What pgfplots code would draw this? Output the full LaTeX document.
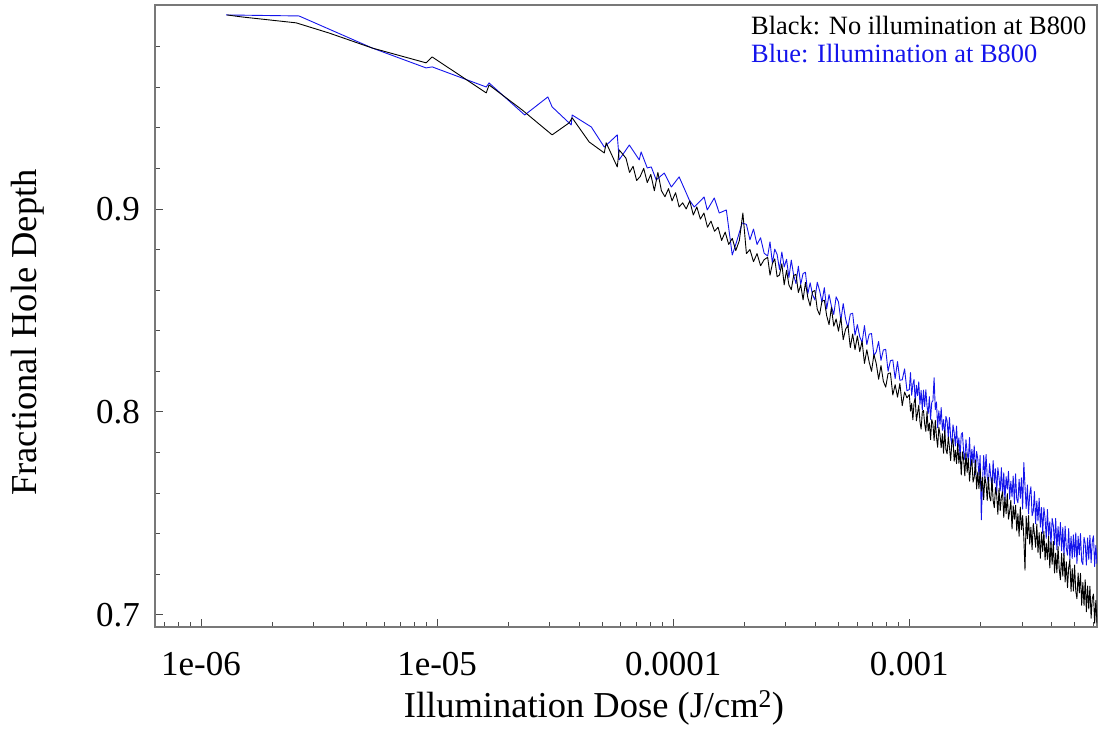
\documentclass[border=0pt]{standalone}
\usepackage{fontspec}
\setmainfont{Liberation Serif}
\usepackage{pgfplots}
\pgfplotsset{compat=1.18}
\definecolor{lineblue}{RGB}{20,20,235}
\definecolor{framegray}{RGB}{120,120,120}
\begin{document}
\begin{tikzpicture}[x=1pt,y=1pt]
\path[use as bounding box] (0,0) rectangle (1099,734);
\begin{axis}[
  at={(155pt,107pt)}, anchor=south west,
  scale only axis, width=942pt, height=622pt,
  xmin=-6.195, xmax=-2.205, ymin=0.694, ymax=1.0005,
  axis line style={draw=framegray, line width=1.4pt},
  xtick={-6,-5,-4,-3},
  xticklabels={1e-06,1e-05,0.0001,0.001},
  minor xtick={-6.1549,-6.0969,-6.0458,
    -5.6990,-5.5229,-5.3979,-5.3010,-5.2218,-5.1549,-5.0969,-5.0458,
    -4.6990,-4.5229,-4.3979,-4.3010,-4.2218,-4.1549,-4.0969,-4.0458,
    -3.6990,-3.5229,-3.3979,-3.3010,-3.2218,-3.1549,-3.0969,-3.0458,
    -2.6990,-2.5229,-2.3979,-2.3010,-2.2218},
  ytick={0.7,0.8,0.9},
  yticklabels={0.7,0.8,0.9},
  minor ytick={0.72,0.74,0.76,0.78,0.82,0.84,0.86,0.88,0.92,0.94,0.96,0.98},
  xtick pos=lower, ytick pos=left,
  tick align=inside,
  major tick length=8pt, minor tick length=5pt,
  every tick/.style={draw=black!70, line width=0.9pt},
  /pgf/number format/assume math mode=true,
  xticklabel style={font=\fontsize{35}{40}\selectfont, anchor=north, inner sep=0pt, yshift=-25pt},
  yticklabel style={font=\fontsize{35}{40}\selectfont, anchor=east, inner sep=0pt, xshift=-15pt},
  xlabel={Illumination Dose (J/cm\textsuperscript{2})},
  ylabel={Fractional Hole Depth},
  xlabel style={font=\fontsize{36.5}{40}\selectfont, at={(axis description cs:0.466,0)}, anchor=base, yshift=-90pt, inner sep=0pt},
  ylabel style={font=\fontsize{36.5}{40}\selectfont, at={(axis description cs:-0.1253,0.4735)}, anchor=base, inner sep=0pt},
  clip=true,
]
% Blue: Illumination at B800 (x = log10 of dose in J/cm^2)
\addplot[color=lineblue, line width=0.9pt, line join=round] table {
-5.894 0.9956
-5.585 0.9951
-5.275 0.9793
-5.047 0.9695
-5.021 0.9700
-4.792 0.9601
-4.780 0.9621
-4.629 0.9463
-4.531 0.9552
-4.513 0.9503
-4.432 0.9414
-4.428 0.9463
-4.347 0.9404
-4.292 0.9305
-4.237 0.9365
-4.229 0.9242
-4.186 0.9315
-4.144 0.9242
-4.136 0.9281
-4.110 0.9202
-4.093 0.9207
-4.072 0.9143
-4.038 0.9177
-4.008 0.9108
-3.975 0.9158
-3.945 0.9079
-3.932 0.9044
-3.911 0.9010
-3.869 0.9059
-3.856 0.8995
-3.826 0.9054
-3.805 0.8980
-3.775 0.8995
-3.750 0.8773
-3.733 0.8833
-3.708 0.8931
-3.690 0.8924
-3.675 0.8848
-3.660 0.8901
-3.645 0.8825
-3.630 0.8858
-3.615 0.8782
-3.60 0.8768
-3.59 0.8838
-3.58 0.8732
-3.57 0.8802
-3.56 0.8776
-3.55 0.8702
-3.54 0.8788
-3.53 0.8714
-3.52 0.8752
-3.51 0.8662
-3.50 0.8748
-3.49 0.8674
-3.48 0.8632
-3.47 0.8718
-3.46 0.8628
-3.45 0.8682
-3.44 0.8688
-3.43 0.8582
-3.42 0.8636
-3.41 0.8578
-3.40 0.8552
-3.39 0.8639
-3.38 0.8598
-3.37 0.8541
-3.36 0.8612
-3.35 0.8507
-3.34 0.8578
-3.33 0.8521
-3.32 0.8480
-3.31 0.8567
-3.30 0.8542
-3.29 0.8450
-3.28 0.8534
-3.27 0.8458
-3.26 0.8414
-3.25 0.8482
-3.24 0.8486
-3.23 0.8378
-3.22 0.8430
-3.21 0.8370
-3.20 0.8342
-3.19 0.8425
-3.18 0.8332
-3.17 0.8383
-3.16 0.8386
-3.15 0.8277
-3.14 0.8296
-3.13 0.8347
-3.12 0.8254
-3.11 0.8305
-3.10 0.8308
-3.09 0.8200
-3.08 0.8252
-3.07 0.8256
-3.06 0.8164
-3.05 0.8248
-3.04 0.8156
-3.03 0.8158
-3.02 0.8212
-3.01 0.8104
-3.000 0.8110
-2.995 0.8194
-2.990 0.8082
-2.985 0.8136
-2.980 0.8159
-2.975 0.8048
-2.970 0.8131
-2.965 0.8080
-2.960 0.8148
-2.955 0.8037
-2.950 0.8105
-2.945 0.8009
-2.940 0.8107
-2.935 0.8026
-2.930 0.8109
-2.925 0.8028
-2.920 0.7991
-2.915 0.8075
-2.910 0.7963
-2.905 0.8047
-2.900 0.8055
-2.895 0.8168
-2.890 0.8011
-2.885 0.8049
-2.880 0.7922
-2.875 0.8005
-2.870 0.7938
-2.865 0.8021
-2.860 0.7909
-2.855 0.7962
-2.850 0.7880
-2.845 0.7978
-2.840 0.7956
-2.835 0.7874
-2.830 0.7972
-2.825 0.7875
-2.820 0.7838
-2.815 0.7936
-2.810 0.7899
-2.805 0.7832
-2.800 0.7930
-2.795 0.7819
-2.790 0.7872
-2.785 0.7776
-2.780 0.7889
-2.775 0.7898
-2.770 0.7801
-2.765 0.7765
-2.760 0.7863
-2.755 0.7797
-2.750 0.7760
-2.745 0.7874
-2.740 0.7732
-2.735 0.7816
-2.730 0.7749
-2.725 0.7833
-2.720 0.7691
-2.715 0.7805
-2.710 0.7768
-2.705 0.7687
-2.700 0.7785
-2.695 0.7468
-2.690 0.7655
-2.685 0.7785
-2.680 0.7675
-2.675 0.7790
-2.670 0.7680
-2.665 0.7645
-2.660 0.7745
-2.655 0.7680
-2.650 0.7630
-2.645 0.7760
-2.640 0.7650
-2.635 0.7720
-2.630 0.7595
-2.625 0.7725
-2.620 0.7675
-2.615 0.7610
-2.610 0.7725
-2.605 0.7585
-2.600 0.7700
-2.595 0.7563
-2.590 0.7681
-2.585 0.7619
-2.580 0.7707
-2.575 0.7570
-2.570 0.7658
-2.565 0.7581
-2.560 0.7684
-2.555 0.7547
-2.550 0.7695
-2.545 0.7571
-2.540 0.7552
-2.535 0.7668
-2.530 0.7574
-2.525 0.7675
-2.520 0.7521
-2.515 0.7750
-2.510 0.7633
-2.505 0.7524
-2.500 0.7640
-2.495 0.7497
-2.490 0.7594
-2.485 0.7631
-2.480 0.7488
-2.475 0.7510
-2.470 0.7607
-2.465 0.7449
-2.460 0.7561
-2.455 0.7463
-2.450 0.7575
-2.445 0.7432
-2.440 0.7529
-2.435 0.7401
-2.430 0.7528
-2.425 0.7475
-2.420 0.7377
-2.415 0.7519
-2.410 0.7391
-2.405 0.7458
-2.400 0.7345
-2.395 0.7475
-2.390 0.7440
-2.385 0.7345
-2.380 0.7475
-2.375 0.7320
-2.370 0.7435
-2.365 0.7340
-2.360 0.7455
-2.355 0.7315
-2.350 0.7430
-2.345 0.7291
-2.340 0.7437
-2.335 0.7328
-2.330 0.7294
-2.325 0.7425
-2.320 0.7271
-2.315 0.7387
-2.310 0.7278
-2.305 0.7394
-2.300 0.7285
-2.295 0.7404
-2.290 0.7253
-2.285 0.7387
-2.280 0.7296
-2.275 0.7400
-2.270 0.7264
-2.265 0.7248
-2.260 0.7382
-2.255 0.7351
-2.250 0.7245
-2.245 0.7379
-2.240 0.7273
-2.235 0.7392
-2.230 0.7256
-2.225 0.7360
-2.220 0.7389
-2.215 0.7238
-2.210 0.7342
-2.205 0.7251
};
% Black: No illumination at B800
\addplot[color=black, line width=0.9pt, line join=round] table {
-5.890 0.9956
-5.826 0.9946
-5.597 0.9917
-5.458 0.9867
-5.275 0.9793
-5.047 0.9720
-5.021 0.9749
-4.792 0.9572
-4.780 0.9611
-4.640 0.9488
-4.513 0.9365
-4.441 0.9424
-4.428 0.9449
-4.356 0.9330
-4.292 0.9276
-4.284 0.9326
-4.237 0.9207
-4.229 0.9291
-4.200 0.925
-4.185 0.918
-4.170 0.921
-4.155 0.914
-4.140 0.916
-4.125 0.920
-4.110 0.913
-4.095 0.917
-4.080 0.909
-4.065 0.918
-4.050 0.909
-4.035 0.906
-4.020 0.910
-4.005 0.904
-3.990 0.908
-3.975 0.901
-3.960 0.903
-3.945 0.900
-3.930 0.904
-3.915 0.897
-3.900 0.901
-3.885 0.895
-3.870 0.898
-3.855 0.891
-3.840 0.894
-3.825 0.889
-3.810 0.891
-3.795 0.8845
-3.780 0.8886
-3.765 0.8825
-3.750 0.8855
-3.735 0.8795
-3.720 0.8844
-3.705 0.8980
-3.690 0.878
-3.675 0.880
-3.660 0.874
-3.645 0.878
-3.630 0.872
-3.615 0.875
-3.60 0.8762
-3.59 0.8674
-3.58 0.8730
-3.57 0.8754
-3.56 0.8666
-3.55 0.8674
-3.54 0.8730
-3.53 0.8626
-3.52 0.8698
-3.51 0.8626
-3.50 0.8602
-3.49 0.8672
-3.48 0.8678
-3.47 0.8588
-3.46 0.8626
-3.45 0.8552
-3.44 0.8638
-3.43 0.8564
-3.42 0.8522
-3.41 0.8592
-3.40 0.8598
-3.39 0.8506
-3.38 0.8478
-3.37 0.8546
-3.36 0.8550
-3.35 0.8474
-3.34 0.8430
-3.33 0.8514
-3.32 0.8422
-3.31 0.8458
-3.30 0.8398
-3.29 0.8465
-3.28 0.8356
-3.27 0.8407
-3.26 0.8426
-3.25 0.8317
-3.24 0.8384
-3.23 0.8307
-3.22 0.8374
-3.21 0.8297
-3.20 0.8348
-3.19 0.8239
-3.18 0.8306
-3.17 0.8245
-3.16 0.8200
-3.15 0.8283
-3.14 0.8238
-3.13 0.8161
-3.12 0.8228
-3.11 0.8151
-3.10 0.8122
-3.09 0.8189
-3.08 0.8192
-3.07 0.8083
-3.06 0.8134
-3.05 0.8073
-3.04 0.8140
-3.03 0.8031
-3.02 0.8098
-3.01 0.8069
-3.000 0.8085
-2.995 0.8004
-2.990 0.8042
-2.985 0.7961
-2.980 0.8044
-2.975 0.8068
-2.970 0.7956
-2.965 0.7995
-2.960 0.8033
-2.955 0.7952
-2.950 0.7915
-2.945 0.7999
-2.940 0.8007
-2.935 0.7941
-2.930 0.7904
-2.925 0.8003
-2.920 0.7906
-2.915 0.7945
-2.910 0.7863
-2.905 0.7962
-2.900 0.7940
-2.895 0.7859
-2.890 0.7958
-2.885 0.7877
-2.880 0.7826
-2.875 0.7925
-2.870 0.7889
-2.865 0.7823
-2.860 0.7892
-2.855 0.7796
-2.850 0.7910
-2.845 0.7814
-2.840 0.7793
-2.835 0.7877
-2.830 0.7826
-2.825 0.7760
-2.820 0.7844
-2.815 0.7868
-2.810 0.7757
-2.805 0.7811
-2.800 0.7745
-2.795 0.7844
-2.790 0.7747
-2.785 0.7801
-2.780 0.7689
-2.775 0.7803
-2.770 0.7766
-2.765 0.7685
-2.760 0.7798
-2.755 0.7702
-2.750 0.7770
-2.745 0.7659
-2.740 0.7727
-2.735 0.7766
-2.730 0.7654
-2.725 0.7678
-2.720 0.7761
-2.715 0.7620
-2.710 0.7703
-2.705 0.7622
-2.700 0.7720
-2.695 0.7609
-2.690 0.7678
-2.685 0.7567
-2.680 0.7681
-2.675 0.7645
-2.670 0.7564
-2.665 0.7678
-2.660 0.7582
-2.655 0.7561
-2.650 0.7675
-2.645 0.7564
-2.640 0.7528
-2.635 0.7627
-2.630 0.7591
-2.625 0.7495
-2.620 0.7624
-2.615 0.7513
-2.610 0.7582
-2.605 0.7606
-2.600 0.7480
-2.595 0.7579
-2.590 0.7498
-2.585 0.7597
-2.580 0.7471
-2.575 0.7510
-2.570 0.7564
-2.565 0.7423
-2.560 0.7537
-2.555 0.7471
-2.550 0.7540
-2.545 0.7414
-2.540 0.7498
-2.535 0.7387
-2.530 0.7531
-2.525 0.7420
-2.520 0.7489
-2.515 0.7378
-2.510 0.7220
-2.505 0.7486
-2.500 0.7375
-2.495 0.7489
-2.490 0.7348
-2.485 0.7432
-2.480 0.7321
-2.475 0.7450
-2.470 0.7399
-2.465 0.7333
-2.460 0.7447
-2.455 0.7306
-2.450 0.7405
-2.445 0.7279
-2.440 0.7408
-2.435 0.7312
-2.430 0.7411
-2.425 0.7270
-2.420 0.7354
-2.415 0.7273
-2.410 0.7387
-2.405 0.7231
-2.400 0.7360
-2.395 0.7249
-2.390 0.7362
-2.385 0.7206
-2.380 0.7304
-2.375 0.7208
-2.370 0.7336
-2.365 0.7225
-2.360 0.7173
-2.355 0.7302
-2.350 0.7190
-2.345 0.7304
-2.340 0.7162
-2.335 0.7261
-2.330 0.7134
-2.325 0.7233
-2.320 0.7271
-2.315 0.7115
-2.310 0.7228
-2.305 0.7117
-2.300 0.7245
-2.295 0.7117
-2.290 0.7079
-2.285 0.7206
-2.280 0.7108
-2.275 0.7205
-2.270 0.7047
-2.265 0.7159
-2.260 0.7046
-2.255 0.7173
-2.250 0.7015
-2.245 0.7142
-2.240 0.7029
-2.235 0.7141
-2.230 0.6983
-2.225 0.7080
-2.220 0.7102
-2.215 0.6959
-2.210 0.7071
-2.205 0.6958
};
\node[anchor=base west, inner sep=0pt, font=\fontsize{26.4}{30}\selectfont, text=black]
  at (rel axis cs:0.6327,0.9518) {Black: No illumination at B800};
\node[anchor=base west, inner sep=0pt, font=\fontsize{26.4}{30}\selectfont, text=lineblue]
  at (rel axis cs:0.6327,0.9068) {Blue: Illumination at B800};
\end{axis}
\end{tikzpicture}
\end{document}
